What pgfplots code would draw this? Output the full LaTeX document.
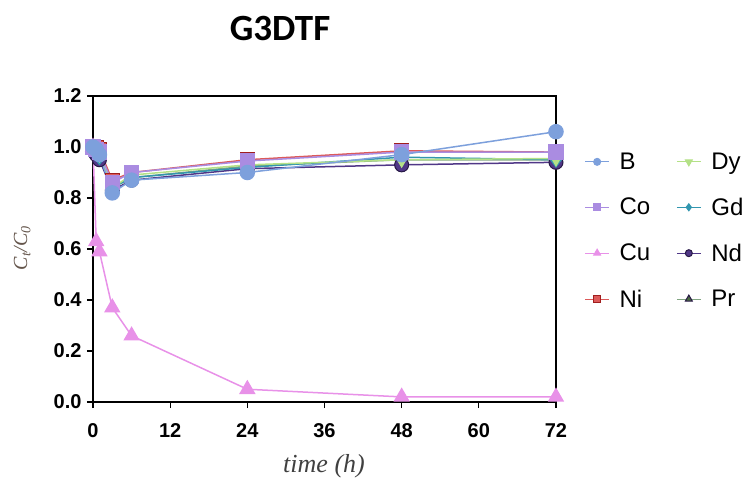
\documentclass[border=0pt]{standalone}
\usepackage{pgfplots}
\pgfplotsset{compat=1.18}
\usepackage{fontspec}
\setmainfont{Liberation Sans}
\newfontfamily\serifit{Liberation Serif}
\newfontfamily\titlefont{Carlito}
\definecolor{cB}{RGB}{125,160,220}
\definecolor{cCo}{RGB}{170,140,225}
\definecolor{cCu}{RGB}{232,145,232}
\definecolor{cNi}{RGB}{220,90,90}
\definecolor{cNiD}{RGB}{160,30,30}
\definecolor{cDy}{RGB}{180,225,135}
\definecolor{cGd}{RGB}{50,150,175}
\definecolor{cNd}{RGB}{80,55,135}
\definecolor{cNdD}{RGB}{40,25,70}
\definecolor{cPr}{RGB}{75,105,65}
\definecolor{cPrL}{RGB}{130,165,130}
\begin{document}
\begin{tikzpicture}
\useasboundingbox (-93pt,-75pt) rectangle (660pt,402pt);
\begin{axis}[
  at={(0pt,0pt)}, anchor=south west,
  scale only axis, width=463pt, height=306pt,
  xmin=0, xmax=72, ymin=0, ymax=1.2,
  xtick={0,12,24,36,48,60,72},
  ytick={0,0.2,0.4,0.6,0.8,1.0,1.2},
  yticklabel style={xshift=-2pt, /pgf/number format/fixed, /pgf/number format/fixed zerofill, /pgf/number format/precision=1},
  /pgf/number format/assume math mode=true,
  ticklabel style={font=\bfseries\fontsize{20}{20}\selectfont},
  xticklabel style={yshift=-12pt},
  tick align=outside, major tick length=6pt,
  xtick pos=bottom, ytick pos=left,
  tick style={black, line width=1.2pt},
  axis line style={black, line width=1.5pt},
  clip=false,
  xlabel={\serifit\itshape time (h)},
  xlabel style={font=\fontsize{26}{26}\selectfont, text=black!75, at={(axis description cs:0.499,-0.211)}, anchor=center},
  ylabel={\serifit\itshape C\textsubscript{t}/C\textsubscript{0}},
  ylabel style={font=\fontsize{20}{20}\selectfont, text={rgb,255:red,100;green,85;blue,75}, at={(axis description cs:-0.153,0.503)}, anchor=center},
  legend style={draw=none, fill=none, at={(axis description cs:1.055,0.828)}, anchor=north west,
    font=\fontsize{24}{24}\selectfont, row sep=23pt, column sep=8pt,
    /tikz/every even column/.append style={column sep=24pt}},
  legend cell align=left,
  legend columns=2,
  legend image code/.code={\draw[mark repeat=2,mark phase=2] plot coordinates {(0pt,0pt) (12pt,0pt) (24pt,0pt)};},
  every axis plot/.append style={line width=1.5pt},
]
% Legend entries (row-wise: B, Dy, Co, Gd, Cu, Nd, Ni, Pr)
\addlegendimage{cB, mark=*, mark size=3.5pt, mark options={fill=cB, draw=cB}, line width=1pt}
\addlegendentry{B}
\addlegendimage{cDy, mark=triangle*, mark size=4pt, mark options={rotate=180, fill=cDy, draw=cDy}, line width=1pt}
\addlegendentry{Dy}
\addlegendimage{cCo, mark=square*, mark size=3.5pt, mark options={fill=cCo, draw=cCo}, line width=1pt}
\addlegendentry{Co}
\addlegendimage{cGd, mark=diamond*, mark size=3.5pt, mark options={fill=cGd, draw=cGd}, line width=1pt}
\addlegendentry{Gd}
\addlegendimage{cCu, mark=triangle*, mark size=4pt, mark options={fill=cCu, draw=cCu}, line width=1pt}
\addlegendentry{Cu}
\addlegendimage{cNd, mark=*, mark size=3.5pt, mark options={fill=cNd, draw=cNdD}, line width=1pt}
\addlegendentry{Nd}
\addlegendimage{cNi, mark=square*, mark size=3.5pt, mark options={fill=cNi, draw=cNiD}, line width=1pt}
\addlegendentry{Ni}
\addlegendimage{cPrL, mark=triangle*, mark size=4pt, mark options={fill=cPr, draw=cNdD}, line width=1pt}
\addlegendentry{Pr}
% Data
\addplot[forget plot, cNi, mark=square*, mark size=7pt, mark options={fill=cNi, draw=cNiD, line width=1pt}] coordinates {
(0,1.00) (0.5,1.00) (1,0.99) (3,0.87) (6,0.90) (24,0.95) (48,0.985) (72,0.98)};
\addplot[forget plot, cPrL, mark=triangle*, mark size=7pt, mark options={fill=cPr, draw=cNdD, line width=1pt}] coordinates {
(0,1.00) (0.5,0.98) (1,0.96) (3,0.84) (6,0.88) (24,0.925) (48,0.95) (72,0.95)};
\addplot[forget plot, cNd, mark=*, mark size=7pt, mark options={fill=cNd, draw=cNdD, line width=1pt}] coordinates {
(0,1.00) (0.5,0.97) (1,0.95) (3,0.83) (6,0.87) (24,0.915) (48,0.93) (72,0.94)};
\addplot[forget plot, cGd, mark=diamond*, mark size=7pt, mark options={fill=cGd, draw=cGd}] coordinates {
(0,1.00) (0.5,0.98) (1,0.96) (3,0.84) (6,0.88) (24,0.92) (48,0.96) (72,0.95)};
\addplot[forget plot, cDy, mark=triangle*, mark size=7pt, mark options={rotate=180, fill=cDy, draw=cDy}] coordinates {
(0,1.00) (0.5,0.98) (1,0.97) (3,0.84) (6,0.89) (24,0.93) (48,0.95) (72,0.955)};
\addplot[forget plot, cCu, mark=triangle*, mark size=8pt, mark options={fill=cCu, draw=cCu}] coordinates {
(0,1.00) (0.5,0.63) (1,0.59) (3,0.37) (6,0.26) (24,0.05) (48,0.02) (72,0.02)};
\addplot[forget plot, cCo, mark=square*, mark size=7pt, mark options={fill=cCo, draw=cCo}] coordinates {
(0,1.00) (0.5,0.99) (1,0.98) (3,0.86) (6,0.90) (24,0.945) (48,0.98) (72,0.98)};
\addplot[forget plot, cB, mark=*, mark size=7pt, mark options={fill=cB, draw=cB}] coordinates {
(0,1.00) (0.5,0.99) (1,0.97) (3,0.82) (6,0.87) (24,0.90) (48,0.97) (72,1.06)};
\node[font=\titlefont\bfseries\fontsize{37}{37}\selectfont, anchor=center] at (axis description cs:0.404,1.222) {G3DTF};
\end{axis}
\end{tikzpicture}
\end{document}
